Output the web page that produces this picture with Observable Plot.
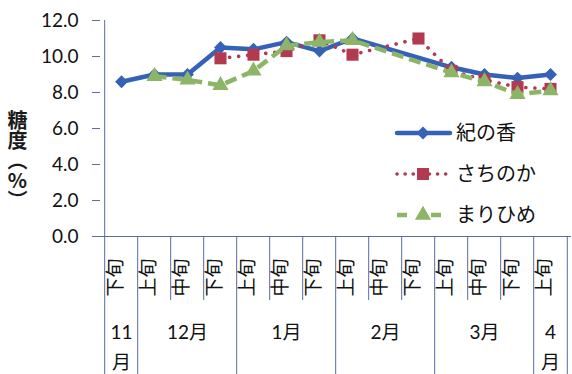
<!DOCTYPE html>
<html>
<head>
<meta charset="utf-8">
<script src="https://cdn.jsdelivr.net/npm/d3@7"></script>
<script src="https://cdn.jsdelivr.net/npm/@observablehq/plot@0.6"></script>
<style>
  body { margin: 0; background: #fff; }
  #chart { position: relative; width: 572px; height: 374px; overflow: hidden; background: #fff; }
  #chart svg { position: absolute; left: 0; top: 0; }
  #ytitle {
    position: absolute; left: 7px; top: 110px;
    writing-mode: vertical-rl; text-orientation: upright;
    font-family: "Noto Sans CJK JP", sans-serif; font-weight: bold;
    font-size: 20px; line-height: 20px; color: #1a1a1a;
  }
</style>
</head>
<body>
<div id="chart"><div id="ytitle">糖度（%）</div></div>
<script>
// Harvest periods (旬) grouped by month
const months = ["11月", "12月", "1月", "2月", "3月", "4月"];
const monthPeriods = [
  ["下旬"],
  ["上旬", "中旬", "下旬"],
  ["上旬", "中旬", "下旬"],
  ["上旬", "中旬", "下旬"],
  ["上旬", "中旬", "下旬"],
  ["上旬"]
];

// Sugar content (%) per period; null = not measured
const seriesNames = ["紀の香", "さちのか", "まりひめ"];
const kinoka    = [8.6, 9.0, 9.0, 10.5, 10.4, 10.8, 10.3, 11.0, null, null, 9.4, 9.0, 8.8, 9.0];
const sachinoka = [null, null, null, 9.9, 10.1, 10.3, 10.9, 10.1, null, 11.0, 9.2, 8.7, 8.3, 8.2];
const marihime  = [null, 8.9, 8.7, 8.4, 9.2, 10.6, 10.8, 10.9, null, null, 9.1, 8.6, 7.9, 8.1];

const yTicks = [0, 2, 4, 6, 8, 10, 12];

// Build the category table
const cats = [];
const groups = [];
months.forEach((m, mi) => {
  const ps = monthPeriods[mi];
  ps.forEach((p, pi) => cats.push({key: m + p, month: m, period: p, first: pi === 0}));
  const mid = m + ps[Math.floor(ps.length / 2)];
  const label = ps.length === 1 ? m.replace("月", "\n月") : m;
  groups.push({mid, label});
});
const keys = cats.map(d => d.key);
const monthStarts = cats.filter(d => d.first).map(d => d.key);
const innerKeys = cats.filter(d => !d.first).map(d => d.key);

const seriesValues = [kinoka, sachinoka, marihime];
const styles = [
  {color: "#3462b6", symbol: "diamond2", r: 5.8, width: 4.5, dash: null, cap: "round"},
  {color: "#b23a50", symbol: "square", r: 6.8, width: 3.6, dash: "0.1 9", cap: "round"},
  {color: "#8db567", symbol: "triangle", r: 6.0, width: 4.5, dash: "12 6", cap: "butt"}
];
const rowsBySeries = seriesValues.map((vals, si) =>
  vals.map((v, i) => ({series: seriesNames[si], key: keys[i], value: v})).filter(d => d.value != null)
);

const W = 572, H = 374, mL = 100, mR = 1, mT = 20, mB = 138;
const half = (W - mL - mR) / keys.length / 2;
const frameH = H - mT - mB;
const axisColor = "#5a6ba6";
const font = "Lato, 'Noto Sans CJK JP', sans-serif";

const seriesMarks = [];
rowsBySeries.forEach((rows, si) => {
  const s = styles[si];
  seriesMarks.push(Plot.line(rows, {
    x: "key", y: "value", stroke: s.color, strokeWidth: s.width,
    strokeDasharray: s.dash, strokeLinecap: s.cap, strokeLinejoin: "round"
  }));
  seriesMarks.push(Plot.dot(rows, {
    x: "key", y: "value", symbol: s.symbol, r: s.r, fill: s.color, stroke: "none"
  }));
});

const chart = Plot.plot({
  width: W, height: H,
  marginLeft: mL, marginRight: mR, marginTop: mT, marginBottom: mB,
  style: {fontFamily: font, fontSize: "19px", background: "transparent", color: "#111"},
  x: {type: "point", domain: keys, padding: 0.5, axis: null},
  y: {domain: [0, 12]},
  marks: [
    Plot.axisY({ticks: yTicks, tickSize: 8, tickPadding: 14, tickFormat: d => d.toFixed(1),
      fontSize: 19, label: null, stroke: axisColor, fill: "#111"}),
    Plot.ruleY([0], {stroke: axisColor}),
    // y axis line, continued down through the category rows
    Plot.ruleX([keys[0]], {dx: -half, stroke: axisColor, insetBottom: -mB}),
    // month separators (full height of the label area)
    Plot.ruleX(monthStarts.slice(1), {dx: -half, stroke: axisColor, insetTop: frameH, insetBottom: -mB}),
    Plot.ruleX([keys[keys.length - 1]], {dx: half, stroke: axisColor, insetTop: frameH, insetBottom: -mB}),
    // period separators (first row only)
    Plot.ruleX(innerKeys, {dx: -half, stroke: axisColor, insetTop: frameH, insetBottom: -64}),
    // period labels, rotated
    Plot.text(cats, {x: "key", text: "period", frameAnchor: "bottom", dy: 41, rotate: -90,
      fontSize: 19, fontFamily: "'Noto Sans CJK JP', sans-serif", fill: "#111"}),
    // month labels
    Plot.text(groups, {x: "mid", text: "label", frameAnchor: "bottom", dy: 82, lineAnchor: "top",
      lineHeight: 1.55, fontSize: 19, fill: "#111"}),
    ...seriesMarks
  ]
});
document.getElementById("chart").appendChild(chart);

// Legend
const legendRows = [133, 174, 215];
const legend = d3.select("#chart").append("svg")
  .attr("width", W).attr("height", H);
seriesNames.forEach((name, i) => {
  const s = styles[i];
  const g = legend.append("g").attr("transform", `translate(0,${legendRows[i]})`);
  g.append("line").attr("x1", 397).attr("x2", 450).attr("y1", 0).attr("y2", 0)
    .attr("stroke", s.color).attr("stroke-width", s.width)
    .attr("stroke-dasharray", i === 1 ? "0.1 8" : i === 2 ? "10 24" : null)
    .attr("stroke-linecap", s.cap);
  g.append("path").attr("transform", "translate(423,0)")
    .attr("d", d3.symbol(i === 0 ? d3.symbolDiamond2 : i === 1 ? d3.symbolSquare : d3.symbolTriangle,
      Math.PI * s.r * s.r)())
    .attr("fill", s.color);
  g.append("text").attr("x", 456).attr("y", 0).attr("dy", "0.35em")
    .attr("font-family", "'Noto Sans CJK JP', sans-serif").attr("font-size", 20)
    .attr("fill", "#111").text(name);
});
</script>
</body>
</html>
